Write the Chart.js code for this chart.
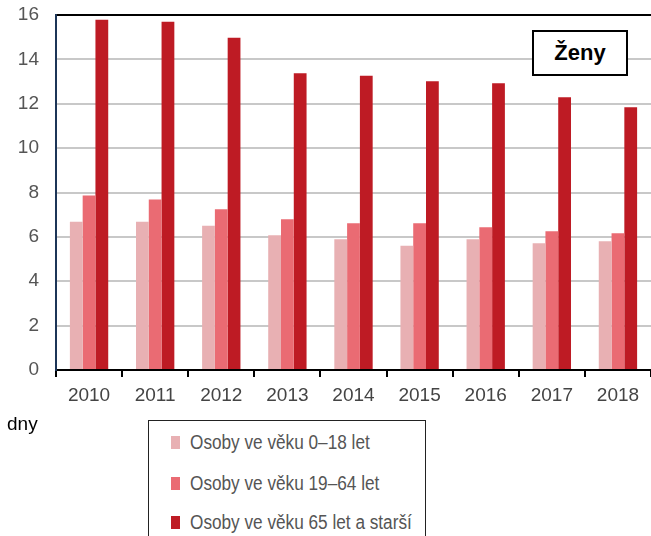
<!DOCTYPE html>
<html>
<head>
<meta charset="utf-8">
<script src="https://cdn.jsdelivr.net/npm/chart.js@4/dist/chart.umd.min.js"></script>
<style>
  body { margin: 0; background: #fff; font-family: "Liberation Sans", Arial, sans-serif; }
  #wrap { position: relative; width: 651px; height: 536px; overflow: hidden; }
  #chart { position: absolute; left: 0; top: 0; }
  #tag {
    position: absolute; left: 532px; top: 30px; width: 92px; height: 42px;
    border: 2px solid #000; background: #fff;
    font-weight: bold; font-size: 22px; line-height: 42px; text-align: center; color: #000;
  }
  #unit { position: absolute; left: 7px; top: 413px; font-size: 19px; color: #000; }
  #legend {
    position: absolute; left: 148px; top: 420px; width: 276px; height: 140px;
    border: 1.5px solid #222; background: #fff;
  }
  #legend .item { position: absolute; left: 22px; height: 22px; color: #555; white-space: nowrap; }
  #legend .box { position: absolute; left: 0; top: 4px; width: 9px; height: 13px; }
  #legend .txt { position: absolute; left: 19px; top: -1px; line-height: 22px; font-size: 20px;
    transform: scaleX(0.86); transform-origin: left center; }
</style>
</head>
<body>
<div id="wrap">
  <canvas id="chart" width="651" height="536"></canvas>
  <div id="tag"></div>
  <div id="unit"></div>
  <div id="legend"></div>
</div>
<script>
  var years = ['2010', '2011', '2012', '2013', '2014', '2015', '2016', '2017', '2018'];
  var seriesNames = ['Osoby ve věku 0–18 let', 'Osoby ve věku 19–64 let', 'Osoby ve věku 65 let a starší'];
  var kids = [6.68, 6.68, 6.5, 6.07, 5.89, 5.6, 5.89, 5.71, 5.8];
  var adults = [7.87, 7.69, 7.24, 6.79, 6.61, 6.61, 6.43, 6.25, 6.16];
  var seniors = [15.79, 15.7, 14.98, 13.37, 13.26, 13.01, 12.92, 12.29, 11.84];
  var colors = ['#e8b0b3', '#ea6b73', '#be1b24'];
  var panelTitle = 'Ženy';
  var unitLabel = 'dny';

  document.getElementById('tag').textContent = panelTitle;
  document.getElementById('unit').textContent = unitLabel;

  var ctx = document.getElementById('chart').getContext('2d');
  var chart = new Chart(ctx, {
    type: 'bar',
    data: {
      labels: years,
      datasets: [kids, adults, seniors].map(function(values, i) {
        return {
          label: seriesNames[i],
          data: values,
          backgroundColor: colors[i],
          borderWidth: 0,
          barPercentage: 1,
          categoryPercentage: 0.58
        };
      })
    },
    options: {
      responsive: false,
      animation: false,
      layout: { padding: { top: 15, right: 0, bottom: 130, left: 0 } },
      plugins: { legend: { display: false }, tooltip: { enabled: false } },
      scales: {
        x: {
          offset: true,
          afterFit: function(scale) { scale.height = 36; scale.paddingRight = 0; },
          border: { color: '#000', width: 2 },
          grid: { offset: true, drawOnChartArea: false, drawTicks: true, tickLength: 7, color: '#000', lineWidth: 2 },
          ticks: { color: '#444', padding: 7, font: { family: 'Liberation Sans', size: 19 } }
        },
        y: {
          min: 0,
          max: 16,
          afterFit: function(scale) { scale.width = 56; scale.paddingTop = 0; scale.paddingBottom = 0; },
          border: { color: '#1c3557', width: 2 },
          grid: {
            drawTicks: false,
            lineWidth: 2,
            color: function(c) { return c.tick && c.tick.value === 16 ? '#000' : '#c8c8c8'; }
          },
          ticks: { stepSize: 2, color: '#555', padding: 17, font: { family: 'Liberation Sans', size: 19 } }
        }
      }
    }
  });

  // legend built from the datasets
  var legend = document.getElementById('legend');
  var rowTops = [11, 52, 91];
  chart.data.datasets.forEach(function(ds, i) {
    var item = document.createElement('div');
    item.className = 'item';
    item.style.top = rowTops[i] + 'px';
    var box = document.createElement('span');
    box.className = 'box';
    box.style.background = ds.backgroundColor;
    var txt = document.createElement('span');
    txt.className = 'txt';
    txt.textContent = ds.label;
    item.appendChild(box);
    item.appendChild(txt);
    legend.appendChild(item);
  });
</script>
</body>
</html>
